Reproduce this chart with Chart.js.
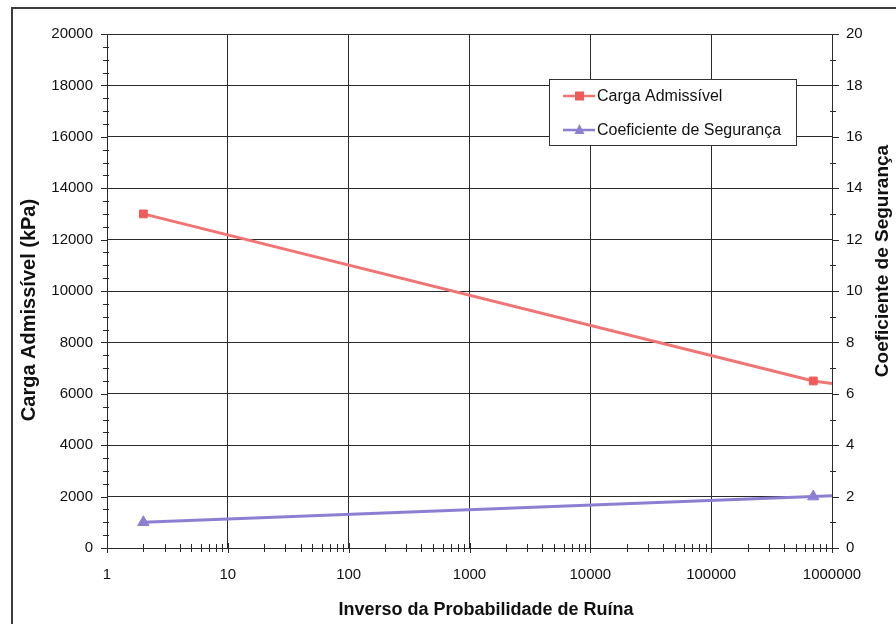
<!DOCTYPE html>
<html>
<head>
<meta charset="utf-8">
<script src="https://cdn.jsdelivr.net/npm/chart.js@4.4.0/dist/chart.umd.min.js"></script>
<style>
  html, body { margin: 0; padding: 0; background: #fff; }
  #wrap { position: relative; width: 896px; height: 624px; overflow: hidden; background: #fff; }
  #frame { position: absolute; left: 11px; top: 7px; width: 1000px; height: 1000px; border: 2px solid #3c3c3c; }
  canvas { position: absolute; left: 0; top: 0; }
</style>
</head>
<body>
<div id="wrap">
  <div id="frame"></div>
  <canvas id="c" width="896" height="624"></canvas>
</div>
<script>
// Inverse of the probability of failure (x, log scale)
const inversoProbRuina = [2, 700000, 1000000];
// Allowable load (kPa), left axis
const cargaAdmissivel = [13000, 6500, 6400];
// Safety factor, right axis
const coefSeguranca = [1, 2, 2.03];

const xTickValues = [1, 10, 100, 1000, 10000, 100000, 1000000];
const seriesNames = ['Carga Admissível', 'Coeficiente de Segurança'];
const xTitle = 'Inverso da Probabilidade de Ruína';
const yTitle = 'Carga Admissível (kPa)';
const y2Title = 'Coeficiente de Segurança';

const RED = '#f07474';
const RED_MARK = '#f05a5a';
const PURPLE = '#8b7fd2';
const INK = '#2a2a2a';
const FONT = '"Liberation Sans", Arial, sans-serif';

const toPoints = (xs, ys) => xs.map((v, i) => ({ x: v, y: ys[i] }));
// last point only carries the line to the plot edge, without a marker
const markerOnly = (r) => (ctx) => (ctx.dataIndex < inversoProbRuina.length - 1 ? r : 0);

const tickMarks = {
  id: 'tickMarks',
  afterDraw(chart) {
    const { ctx, chartArea: a, scales: { x, y, y2 } } = chart;
    ctx.save();
    ctx.strokeStyle = INK;
    ctx.lineWidth = 1;
    ctx.beginPath();
    // x: decade and sub-decade ticks, crossing the axis
    for (let d = 1; d < 1e6; d *= 10) {
      for (let k = 1; k <= 10; k++) {
        const px = Math.round(x.getPixelForValue(d * k)) + 0.5;
        const len = (k === 1 || k === 10) ? 5 : 4;
        ctx.moveTo(px, a.bottom - len);
        ctx.lineTo(px, a.bottom + len);
      }
    }
    // left axis: majors every 2000, minors every 500
    for (let v = 0; v <= 20000; v += 500) {
      const py = Math.round(y.getPixelForValue(v)) + 0.5;
      const major = v % 2000 === 0;
      ctx.moveTo(a.left - (major ? 6 : 4), py);
      ctx.lineTo(a.left + (major ? 0 : 2), py);
    }
    // right axis: majors every 2, minors every 1
    for (let v = 0; v <= 20; v += 1) {
      const py = Math.round(y2.getPixelForValue(v)) + 0.5;
      const major = v % 2 === 0;
      ctx.moveTo(a.right - (major ? 0 : 2), py);
      ctx.lineTo(a.right + (major ? 7 : 4), py);
    }
    ctx.stroke();
    ctx.restore();
  }
};

const axisTitles = {
  id: 'axisTitles',
  afterDraw(chart) {
    const { ctx } = chart;
    ctx.save();
    ctx.fillStyle = '#111';
    ctx.textAlign = 'center';
    ctx.textBaseline = 'middle';
    ctx.font = 'bold 18px ' + FONT;
    ctx.fillText(xTitle, 486, 610);

    ctx.font = 'bold 20px ' + FONT;
    ctx.translate(29, 310);
    ctx.rotate(-Math.PI / 2);
    ctx.fillText(yTitle, 0, 0);
    ctx.restore();

    ctx.save();
    ctx.fillStyle = '#111';
    ctx.textAlign = 'center';
    ctx.textBaseline = 'middle';
    ctx.font = 'bold 19px ' + FONT;
    ctx.translate(883, 261);
    ctx.rotate(-Math.PI / 2);
    ctx.fillText(y2Title, 0, 0);
    ctx.restore();
  }
};

const boxLegend = {
  id: 'boxLegend',
  afterDraw(chart) {
    const { ctx } = chart;
    const box = { x: 549.5, y: 79.5, w: 247, h: 66 };
    ctx.save();
    ctx.fillStyle = '#fff';
    ctx.strokeStyle = '#333';
    ctx.lineWidth = 1;
    ctx.fillRect(box.x, box.y, box.w, box.h);
    ctx.strokeRect(box.x, box.y, box.w, box.h);
    const rows = [96, 130];
    chart.data.datasets.forEach((ds, i) => {
      const cy = rows[i];
      ctx.strokeStyle = ds.borderColor;
      ctx.lineWidth = 2.5;
      ctx.beginPath();
      ctx.moveTo(563, cy);
      ctx.lineTo(595, cy);
      ctx.stroke();
      ctx.fillStyle = ds.pointBackgroundColor;
      ctx.beginPath();
      if (ds.pointStyle === 'rect') {
        ctx.rect(575, cy - 4.5, 9, 9);
      } else {
        ctx.moveTo(579.5, cy - 6);
        ctx.lineTo(584.5, cy + 4);
        ctx.lineTo(574.5, cy + 4);
        ctx.closePath();
      }
      ctx.fill();
      ctx.fillStyle = '#111';
      ctx.font = '16px ' + FONT;
      ctx.textAlign = 'left';
      ctx.textBaseline = 'middle';
      ctx.fillText(ds.label, 597, cy + 1);
    });
    ctx.restore();
  }
};

new Chart(document.getElementById('c'), {
  type: 'line',
  data: {
    datasets: [
      {
        label: seriesNames[0],
        data: toPoints(inversoProbRuina, cargaAdmissivel),
        yAxisID: 'y',
        borderColor: RED,
        borderWidth: 3,
        pointStyle: 'rect',
        pointRadius: markerOnly(5.5),
        pointBackgroundColor: RED_MARK,
        pointBorderColor: RED_MARK,
        pointBorderWidth: 1,
        tension: 0
      },
      {
        label: seriesNames[1],
        data: toPoints(inversoProbRuina, coefSeguranca),
        yAxisID: 'y2',
        borderColor: PURPLE,
        borderWidth: 3,
        pointStyle: 'triangle',
        pointRadius: markerOnly(6.5),
        pointBackgroundColor: PURPLE,
        pointBorderColor: PURPLE,
        pointBorderWidth: 1,
        tension: 0
      }
    ]
  },
  options: {
    responsive: false,
    animation: false,
    devicePixelRatio: 1,
    layout: { padding: { top: 34, left: 0, right: 0, bottom: 0 } },
    plugins: { legend: { display: false }, tooltip: { enabled: false } },
    scales: {
      x: {
        type: 'logarithmic',
        min: 1,
        max: 1000000,
        afterBuildTicks: (s) => { s.ticks = xTickValues.map(v => ({ value: v })); },
        afterFit: (s) => { s.height = 76; },
        ticks: {
          autoSkip: false,
          maxRotation: 0,
          padding: 18,
          color: '#111',
          font: { family: FONT, size: 15 },
          callback: (v) => String(v)
        },
        grid: { color: INK, lineWidth: 1, drawTicks: false },
        border: { display: true, color: INK, width: 1 }
      },
      y: {
        position: 'left',
        min: 0,
        max: 20000,
        afterFit: (s) => { s.width = 107; },
        ticks: {
          stepSize: 2000,
          padding: 14,
          color: '#111',
          font: { family: FONT, size: 15 },
          callback: (v) => String(v)
        },
        grid: { color: INK, lineWidth: 1, drawTicks: false },
        border: { display: true, color: INK, width: 1 }
      },
      y2: {
        position: 'right',
        min: 0,
        max: 20,
        afterFit: (s) => { s.width = 64; },
        ticks: {
          stepSize: 2,
          padding: 14,
          color: '#111',
          font: { family: FONT, size: 15 },
          callback: (v) => String(v)
        },
        grid: { drawOnChartArea: false, drawTicks: false },
        border: { display: true, color: INK, width: 1 }
      }
    }
  },
  plugins: [tickMarks, axisTitles, boxLegend]
});
</script>
</body>
</html>
